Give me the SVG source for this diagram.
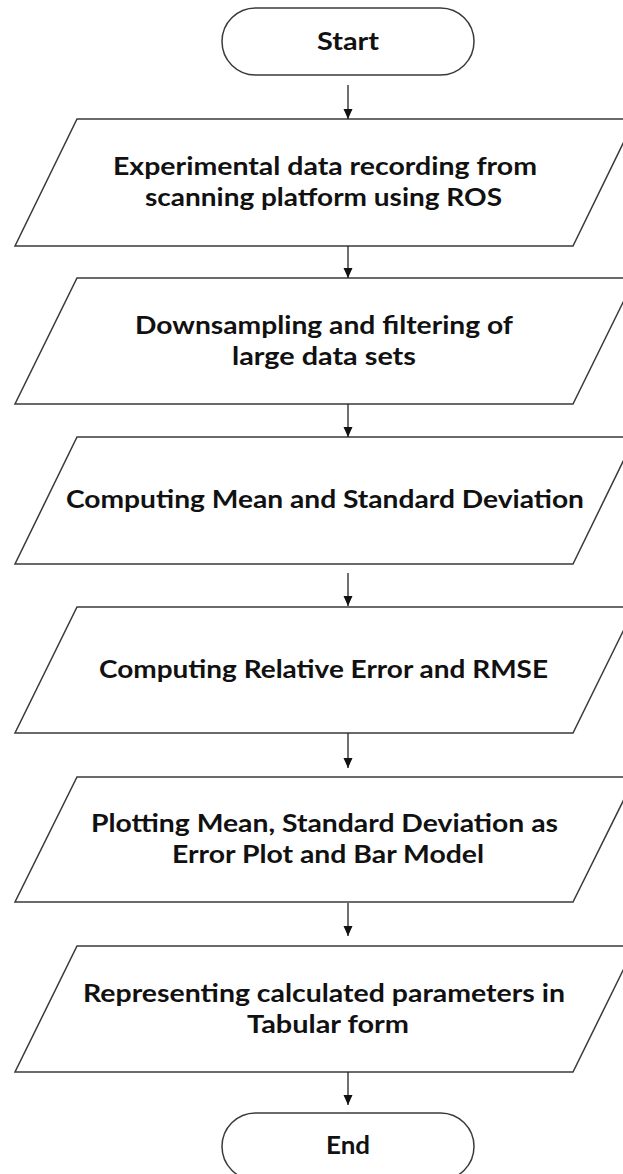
<svg xmlns="http://www.w3.org/2000/svg" width="623" height="1174" viewBox="0 0 623 1174">
  <style>
    .shape { fill: #ffffff; stroke: #3a3a3a; stroke-width: 1.5; }
    .label { font-family: "Lato", "Open Sans", "Liberation Sans", sans-serif; font-weight: bold; font-size: 24px; fill: #111111; text-anchor: middle; }
    .conn { stroke: #222222; stroke-width: 1.3; fill: none; marker-end: url(#head); }
  </style>
  <defs>
    <marker id="head" markerUnits="userSpaceOnUse" markerWidth="10" markerHeight="10" refX="10" refY="5" orient="auto">
      <path d="M0,0.5 L10,5 L0,9.5 z" fill="#111111"/>
    </marker>
  </defs>
  <rect width="623" height="1174" fill="#ffffff"/>

  <g id="start">
    <rect class="shape" x="222" y="8" width="252" height="67" rx="33.5" ry="33.5"/>
    <text class="label" x="348" y="49.5" textLength="62" lengthAdjust="spacingAndGlyphs">Start</text>
  </g>

  <g id="record">
    <polygon class="shape" points="77,119 635,119 573,246 15,246"/>
    <text class="label" x="325" y="175" textLength="424" lengthAdjust="spacingAndGlyphs">Experimental data recording from</text>
    <text class="label" x="323.5" y="206" textLength="357" lengthAdjust="spacingAndGlyphs">scanning platform using ROS</text>
  </g>

  <g id="downsample">
    <polygon class="shape" points="77,278 635,278 573,404 15,404"/>
    <text class="label" x="324" y="333.5" textLength="378" lengthAdjust="spacingAndGlyphs">Downsampling and filtering of</text>
    <text class="label" x="324" y="364.5" textLength="184" lengthAdjust="spacingAndGlyphs">large data sets</text>
  </g>

  <g id="mean-sd">
    <polygon class="shape" points="77,437 635,437 573,564 15,564"/>
    <text class="label" x="325" y="508" textLength="518" lengthAdjust="spacingAndGlyphs">Computing Mean and Standard Deviation</text>
  </g>

  <g id="error-rmse">
    <polygon class="shape" points="77,607 635,607 573,733 15,733"/>
    <text class="label" x="323.5" y="678" textLength="449" lengthAdjust="spacingAndGlyphs">Computing Relative Error and RMSE</text>
  </g>

  <g id="plotting">
    <polygon class="shape" points="77,777 635,777 573,902 15,902"/>
    <text class="label" x="324.5" y="832" textLength="467" lengthAdjust="spacingAndGlyphs">Plotting Mean, Standard Deviation as</text>
    <text class="label" x="328" y="863" textLength="312" lengthAdjust="spacingAndGlyphs">Error Plot and Bar Model</text>
  </g>

  <g id="tabular">
    <polygon class="shape" points="77,946 635,946 573,1072 15,1072"/>
    <text class="label" x="324" y="1001.5" textLength="482" lengthAdjust="spacingAndGlyphs">Representing calculated parameters in</text>
    <text class="label" x="328" y="1032.5" textLength="162" lengthAdjust="spacingAndGlyphs">Tabular form</text>
  </g>

  <g id="end">
    <rect class="shape" x="222" y="1113" width="252" height="67" rx="33.5" ry="33.5"/>
    <text class="label" x="348" y="1154" textLength="44" lengthAdjust="spacingAndGlyphs">End</text>
  </g>

  <g id="connectors">
    <line class="conn" x1="348" y1="85" x2="348" y2="119"/>
    <line class="conn" x1="348" y1="246" x2="348" y2="278"/>
    <line class="conn" x1="348" y1="404" x2="348" y2="437"/>
    <line class="conn" x1="348" y1="573" x2="348" y2="606"/>
    <line class="conn" x1="348" y1="733" x2="348" y2="768"/>
    <line class="conn" x1="348" y1="903" x2="348" y2="936"/>
    <line class="conn" x1="348" y1="1072" x2="348" y2="1105"/>
  </g>
</svg>
